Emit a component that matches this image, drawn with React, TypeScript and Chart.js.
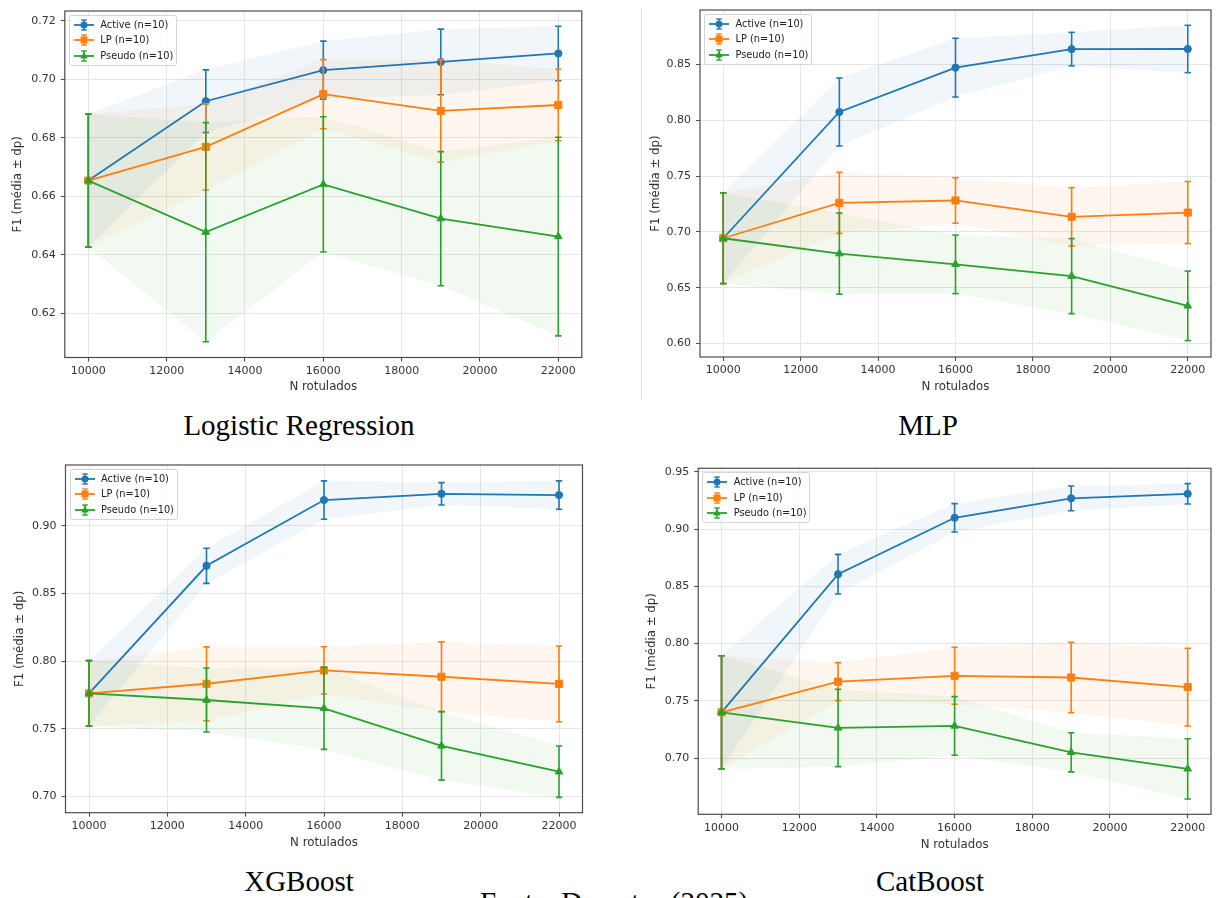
import React, { useEffect, useRef } from 'react';
import { Chart, registerables } from 'chart.js';

Chart.register(...registerables);

// ---------------- data ----------------
const xValues = [10000, 13000, 16000, 19000, 22000];
const xTickValues = [10000, 12000, 14000, 16000, 18000, 20000, 22000];
const seriesLabels = ['Active (n=10)', 'LP (n=10)', 'Pseudo (n=10)'];
const xAxisTitle = 'N rotulados';
const yAxisTitle = 'F1 (média ± dp)';
const sourceNote = 'Fonte: Do autor (2025)';

// Logistic Regression
const lrActiveMean = [0.6654, 0.6925, 0.7031, 0.7059, 0.7088];
const lrActiveSd = [0.0227, 0.0107, 0.0099, 0.0112, 0.0093];
const lrLpMean = [0.6654, 0.6769, 0.6949, 0.6892, 0.6912];
const lrLpSd = [0.0227, 0.0147, 0.0118, 0.0175, 0.0122];
const lrPseudoMean = [0.6654, 0.6478, 0.6641, 0.6524, 0.6463];
const lrPseudoSd = [0.0227, 0.0374, 0.0231, 0.0229, 0.0339];
const lrYTicks = [0.62, 0.64, 0.66, 0.68, 0.70, 0.72];
const lrYRange = [0.605, 0.7233];

// MLP
const mlpActiveMean = [0.6943, 0.8073, 0.8470, 0.8636, 0.8637];
const mlpActiveSd = [0.0406, 0.0304, 0.0263, 0.0150, 0.0212];
const mlpLpMean = [0.6943, 0.7260, 0.7281, 0.7135, 0.7173];
const mlpLpSd = [0.0406, 0.0273, 0.0204, 0.0261, 0.0278];
const mlpPseudoMean = [0.6943, 0.6805, 0.6709, 0.6604, 0.6338];
const mlpPseudoSd = [0.0406, 0.0363, 0.0262, 0.0336, 0.0311];
const mlpYTicks = [0.60, 0.65, 0.70, 0.75, 0.80, 0.85];
const mlpYRange = [0.588, 0.8986];

// XGBoost
const xgbActiveMean = [0.7762, 0.8705, 0.9191, 0.9237, 0.9228];
const xgbActiveSd = [0.0242, 0.0130, 0.0142, 0.0083, 0.0105];
const xgbLpMean = [0.7762, 0.7833, 0.7932, 0.7885, 0.7832];
const xgbLpSd = [0.0242, 0.0273, 0.0175, 0.0258, 0.0280];
const xgbPseudoMean = [0.7762, 0.7713, 0.7651, 0.7374, 0.7183];
const xgbPseudoSd = [0.0242, 0.0237, 0.0303, 0.0253, 0.0190];
const xgbYTicks = [0.70, 0.75, 0.80, 0.85, 0.90];
const xgbYRange = [0.688, 0.945];

// CatBoost
const cbActiveMean = [0.7400, 0.8606, 0.9098, 0.9268, 0.9307];
const cbActiveSd = [0.0494, 0.0173, 0.0124, 0.0108, 0.0089];
const cbLpMean = [0.7400, 0.7668, 0.7719, 0.7704, 0.7620];
const cbLpSd = [0.0494, 0.0166, 0.0249, 0.0307, 0.0339];
const cbPseudoMean = [0.7400, 0.7264, 0.7281, 0.7051, 0.6907];
const cbPseudoSd = [0.0494, 0.0338, 0.0256, 0.0171, 0.0263];
const cbYTicks = [0.70, 0.75, 0.80, 0.85, 0.90, 0.95];
const cbYRange = [0.651, 0.953];

const xRange = [9400, 22600];

// ---------------- styles / layout ----------------
const COLORS = ['#1f77b4', '#ff7f0e', '#2ca02c'];
const BAND_ALPHA = 0.065;
const MARKERS = ['circle', 'rect', 'triangle'];
const MARKER_RADIUS = [3.6, 5, 4.4];
const LINE_W = 1.8;
const ERR_W = 1.6;
const CAP_R = 3.2;
const FONT = "'DejaVu Sans', sans-serif";
const TICK_SIZE = 11;
const TITLE_SIZE = 11.8;
const TEXT_COLOR = '#333';
const SPINE_COLOR = '#4d4d4d';
const GRID_COLOR = '#e6e6e6';

type Panel = {
  caption: string;
  means: number[][];
  sds: number[][];
  yTicks: number[];
  yRange: number[];
  box: { left: number; top: number; w: number; h: number };
  area: { l: number; t: number; r: number; b: number };
  yTitleX: number;
  xTitleY: number;
  captionX: number;
  captionBaseline: number;
};

const PANELS: Panel[] = [
  {
    caption: 'Logistic Regression',
    means: [lrActiveMean, lrLpMean, lrPseudoMean],
    sds: [lrActiveSd, lrLpSd, lrPseudoSd],
    yTicks: lrYTicks,
    yRange: lrYRange,
    box: { left: 0, top: 0, w: 600, h: 400 },
    area: { l: 64.8, t: 11, r: 581.8, b: 357.5 },
    yTitleX: 17.5,
    xTitleY: 387.3,
    captionX: 299,
    captionBaseline: 435,
  },
  {
    caption: 'MLP',
    means: [mlpActiveMean, mlpLpMean, mlpPseudoMean],
    sds: [mlpActiveSd, mlpLpSd, mlpPseudoSd],
    yTicks: mlpYTicks,
    yRange: mlpYRange,
    box: { left: 642, top: 0, w: 575, h: 400 },
    area: { l: 700, t: 10, r: 1216, b: 357 },
    yTitleX: 656,
    xTitleY: 386.7,
    captionX: 928,
    captionBaseline: 435,
  },
  {
    caption: 'XGBoost',
    means: [xgbActiveMean, xgbLpMean, xgbPseudoMean],
    sds: [xgbActiveSd, xgbLpSd, xgbPseudoSd],
    yTicks: xgbYTicks,
    yRange: xgbYRange,
    box: { left: 0, top: 450, w: 600, h: 410 },
    area: { l: 65.5, t: 465, r: 582.5, b: 812.7 },
    yTitleX: 19.5,
    xTitleY: 843,
    captionX: 299,
    captionBaseline: 891,
  },
  {
    caption: 'CatBoost',
    means: [cbActiveMean, cbLpMean, cbPseudoMean],
    sds: [cbActiveSd, cbLpSd, cbPseudoSd],
    yTicks: cbYTicks,
    yRange: cbYRange,
    box: { left: 642, top: 450, w: 575, h: 410 },
    area: { l: 698.2, t: 468.3, r: 1216, b: 814.3 },
    yTitleX: 652,
    xTitleY: 845,
    captionX: 930,
    captionBaseline: 891,
  },
];

function rgba(hex: string, a: number) {
  const n = parseInt(hex.slice(1), 16);
  return `rgba(${(n >> 16) & 255},${(n >> 8) & 255},${n & 255},${a})`;
}

const framePlugin = {
  id: 'axesFrame',
  afterDatasetsDraw(chart: any) {
    const { ctx, chartArea } = chart;
    const { left, top, right, bottom } = chartArea;
    ctx.save();
    ctx.strokeStyle = SPINE_COLOR;
    ctx.lineWidth = 1.2;
    ctx.strokeRect(left, top, right - left, bottom - top);
    ctx.restore();
  },
};

function buildDatasets(p: Panel) {
  const ds: any[] = [];
  // bands
  p.means.forEach((m, k) => {
    const sd = p.sds[k];
    const upperIndex = ds.length;
    ds.push({
      data: xValues.map((x, i) => ({ x, y: m[i] + sd[i] })),
      borderColor: 'rgba(0,0,0,0)',
      borderWidth: 0,
      pointRadius: 0,
      fill: upperIndex + 1,
      backgroundColor: rgba(COLORS[k], BAND_ALPHA),
      order: 100,
    });
    ds.push({
      data: xValues.map((x, i) => ({ x, y: m[i] - sd[i] })),
      borderColor: 'rgba(0,0,0,0)',
      borderWidth: 0,
      pointRadius: 0,
      fill: false,
      order: 100,
    });
  });
  // error bars + lines
  p.means.forEach((m, k) => {
    const sd = p.sds[k];
    const c = COLORS[k];
    xValues.forEach((x, i) => {
      ds.push({
        data: [
          { x, y: m[i] - sd[i] },
          { x, y: m[i] + sd[i] },
        ],
        borderColor: c,
        borderWidth: ERR_W,
        pointStyle: 'line',
        pointRadius: CAP_R,
        pointBorderColor: c,
        pointBorderWidth: ERR_W,
        fill: false,
        order: 31 - 10 * k,
      });
    });
    ds.push({
      data: xValues.map((x, i) => ({ x, y: m[i] })),
      borderColor: c,
      borderWidth: LINE_W,
      pointStyle: MARKERS[k],
      pointRadius: MARKER_RADIUS[k],
      pointBackgroundColor: c,
      pointBorderColor: c,
      pointBorderWidth: 1,
      fill: false,
      tension: 0,
      order: 30 - 10 * k,
    });
  });
  return ds;
}

function buildConfig(p: Panel): any {
  const { box, area } = p;
  const yAxisWidth = area.l - box.left;
  const xAxisHeight = box.top + box.h - area.b;
  const titleLH = TITLE_SIZE * 1.2;
  const yTitlePad = p.yTitleX - box.left - titleLH / 2;
  const xTitlePad = box.top + box.h - p.xTitleY - titleLH / 2;
  return {
    type: 'line',
    data: { datasets: buildDatasets(p) },
    plugins: [framePlugin],
    options: {
      animation: false,
      responsive: false,
      devicePixelRatio: 1,
      events: [],
      layout: {
        padding: {
          left: 0,
          top: area.t - box.top,
          right: box.left + box.w - area.r,
          bottom: 0,
        },
      },
      plugins: {
        legend: { display: false },
        tooltip: { enabled: false },
      },
      scales: {
        x: {
          type: 'linear',
          min: xRange[0],
          max: xRange[1],
          afterBuildTicks: (axis: any) => {
            axis.ticks = xTickValues.map((v) => ({ value: v }));
          },
          afterFit: (axis: any) => {
            axis.height = xAxisHeight;
            axis.paddingLeft = 0;
            axis.paddingRight = 0;
            axis.paddingTop = 0;
            axis.paddingBottom = 0;
          },
          border: { display: false },
          grid: {
            color: GRID_COLOR,
            lineWidth: 1,
            drawTicks: true,
            tickLength: 4,
            tickColor: SPINE_COLOR,
            tickWidth: 1.1,
          },
          ticks: {
            color: TEXT_COLOR,
            font: { family: FONT, size: TICK_SIZE },
            padding: 3,
            maxRotation: 0,
            autoSkip: false,
            callback: (v: number) => String(v),
          },
          title: {
            display: true,
            text: xAxisTitle,
            color: TEXT_COLOR,
            font: { family: FONT, size: TITLE_SIZE },
            padding: { top: 0, bottom: xTitlePad },
          },
        },
        y: {
          type: 'linear',
          min: p.yRange[0],
          max: p.yRange[1],
          afterBuildTicks: (axis: any) => {
            axis.ticks = p.yTicks.map((v) => ({ value: v }));
          },
          afterFit: (axis: any) => {
            axis.width = yAxisWidth;
            axis.paddingLeft = 0;
            axis.paddingRight = 0;
            axis.paddingTop = 0;
            axis.paddingBottom = 0;
          },
          border: { display: false },
          grid: {
            color: GRID_COLOR,
            lineWidth: 1,
            drawTicks: true,
            tickLength: 4,
            tickColor: SPINE_COLOR,
            tickWidth: 1.1,
          },
          ticks: {
            color: TEXT_COLOR,
            font: { family: FONT, size: TICK_SIZE },
            padding: 5,
            autoSkip: false,
            callback: (v: number) => Number(v).toFixed(2),
          },
          title: {
            display: true,
            text: yAxisTitle,
            color: TEXT_COLOR,
            font: { family: FONT, size: TITLE_SIZE },
            padding: { top: yTitlePad, bottom: 0 },
          },
        },
      },
    },
  };
}

function LegendIcon({ k }: { k: number }) {
  const c = COLORS[k];
  const cy = 7;
  let marker: any;
  if (k === 0) marker = <circle cx={10} cy={cy} r={3.5} fill={c} />;
  else if (k === 1) marker = <rect x={6.5} y={cy - 3.5} width={7} height={7} fill={c} />;
  else marker = <polygon points={`10,${cy - 4.2} ${13.8},${cy + 2.6} ${6.2},${cy + 2.6}`} fill={c} />;
  return (
    <svg width={20} height={14} style={{ position: 'absolute', left: 4, top: 0, overflow: 'visible' }}>
      <line x1={0} y1={cy} x2={20} y2={cy} stroke={c} strokeWidth={1.8} />
      <line x1={10} y1={cy - 5} x2={10} y2={cy + 5} stroke={c} strokeWidth={1.4} />
      <line x1={7.2} y1={cy - 5} x2={12.8} y2={cy - 5} stroke={c} strokeWidth={1.4} />
      <line x1={7.2} y1={cy + 5} x2={12.8} y2={cy + 5} stroke={c} strokeWidth={1.4} />
      {marker}
    </svg>
  );
}

function Legend({ p }: { p: Panel }) {
  return (
    <div
      style={{
        position: 'absolute',
        left: p.area.l + 4,
        top: p.area.t + 4,
        width: 108,
        height: 51,
        boxSizing: 'border-box',
        border: '1px solid #d4d4d4',
        borderRadius: 3,
        background: 'rgba(255,255,255,0.8)',
      }}
    >
      {seriesLabels.map((label, k) => {
        const cy = 8.5 + 15.8 * k;
        return (
          <div key={label} style={{ position: 'absolute', left: 0, top: cy - 7, height: 14, width: 106 }}>
            <LegendIcon k={k} />
            <div
              style={{
                position: 'absolute',
                left: 30.5,
                top: 1,
                height: 12,
                lineHeight: '12px',
                fontFamily: FONT,
                fontSize: 9.8,
                color: '#222',
                whiteSpace: 'nowrap',
              }}
            >
              {label}
            </div>
          </div>
        );
      })}
    </div>
  );
}

function PanelChart({ p }: { p: Panel }) {
  const ref = useRef<HTMLCanvasElement>(null);
  useEffect(() => {
    const chart = new Chart(ref.current as HTMLCanvasElement, buildConfig(p));
    return () => chart.destroy();
  }, [p]);
  return (
    <canvas
      ref={ref}
      width={p.box.w}
      height={p.box.h}
      style={{ position: 'absolute', left: p.box.left, top: p.box.top, width: p.box.w, height: p.box.h }}
    />
  );
}

const CAPTION_SIZE = 29;

function Caption({ text, cx, baseline }: { text: string; cx: number; baseline: number }) {
  return (
    <div
      style={{
        position: 'absolute',
        left: cx - 250,
        width: 500,
        top: baseline - 24.3,
        textAlign: 'center',
        fontFamily: "'Liberation Serif', 'Times New Roman', serif",
        fontSize: CAPTION_SIZE,
        lineHeight: `${CAPTION_SIZE}px`,
        color: '#000',
        whiteSpace: 'nowrap',
      }}
    >
      {text}
    </div>
  );
}

export default function App() {
  return (
    <div
      style={{
        position: 'absolute',
        left: 0,
        top: 0,
        width: 1217,
        height: 898,
        overflow: 'hidden',
        background: '#fff',
      }}
    >
      <div style={{ position: 'absolute', left: 641, top: 8, width: 1, height: 392, background: '#dedede' }} />
      {PANELS.map((p) => (
        <React.Fragment key={p.caption}>
          <PanelChart p={p} />
          <Legend p={p} />
          <Caption text={p.caption} cx={p.captionX} baseline={p.captionBaseline} />
        </React.Fragment>
      ))}
      <Caption text={sourceNote} cx={614} baseline={912} />
    </div>
  );
}
